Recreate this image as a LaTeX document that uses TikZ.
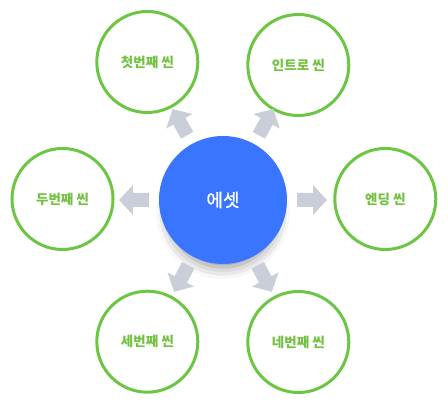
\documentclass[tikz,border=0pt]{standalone}
\usepackage{fontspec}
\setmainfont{Noto Sans CJK KR}
\newfontfamily\assetfont{Noto Sans CJK KR}[FakeBold=1.2]
\usetikzlibrary{shadows.blur}
\definecolor{scgreen}{HTML}{6CC644}
\definecolor{sctext}{HTML}{72C241}
\definecolor{scblue}{HTML}{3A75FF}
\definecolor{scgray}{HTML}{C9CED8}
\tikzset{
  scene/.style={circle, draw=scgreen, line width=3pt, fill=white, minimum size=101pt, inner sep=0pt,
    text=sctext, font=\fontsize{13.5}{15}\selectfont\bfseries},
  asset/.style={circle, fill=scblue, minimum size=128pt, inner sep=0pt, text=white,
    font=\assetfont\fontsize{18}{21}\selectfont,
    blur shadow={shadow xshift=0pt, shadow yshift=-14pt, shadow blur radius=14pt, shadow opacity=45, shadow scale=0.86}},
  barrow/.pic={\fill[scgray] (74pt,-7pt)--(90pt,-7pt)--(90pt,-15pt)--(104pt,0pt)--(90pt,15pt)--(90pt,7pt)--(74pt,7pt)--cycle;}
}
\begin{document}
\begin{tikzpicture}[x=1pt,y=1pt]
\useasboundingbox (0,0) rectangle (448,404);
\node[scene] (tl) at (147.3,342) {첫번째 씬};
\node[scene] (tr) at (298.3,339) {인트로 씬};
\node[scene] (l) at (62.5,205) {두번째 씬};
\node[scene] (r) at (385.3,205) {엔딩 씬};
\node[scene] (bl) at (147.3,62.3) {세번째 씬};
\node[scene] (br) at (298.3,62) {네번째 씬};
\node[asset] (c) at (223,204) {에셋};
\pic[rotate=119] at (c.center) {barrow};
\pic[rotate=61] at (c.center) {barrow};
\pic[rotate=180] at (c.center) {barrow};
\pic[rotate=0] at (c.center) {barrow};
\pic[rotate=242] at (c.center) {barrow};
\pic[rotate=298] at (c.center) {barrow};
\end{tikzpicture}
\end{document}
